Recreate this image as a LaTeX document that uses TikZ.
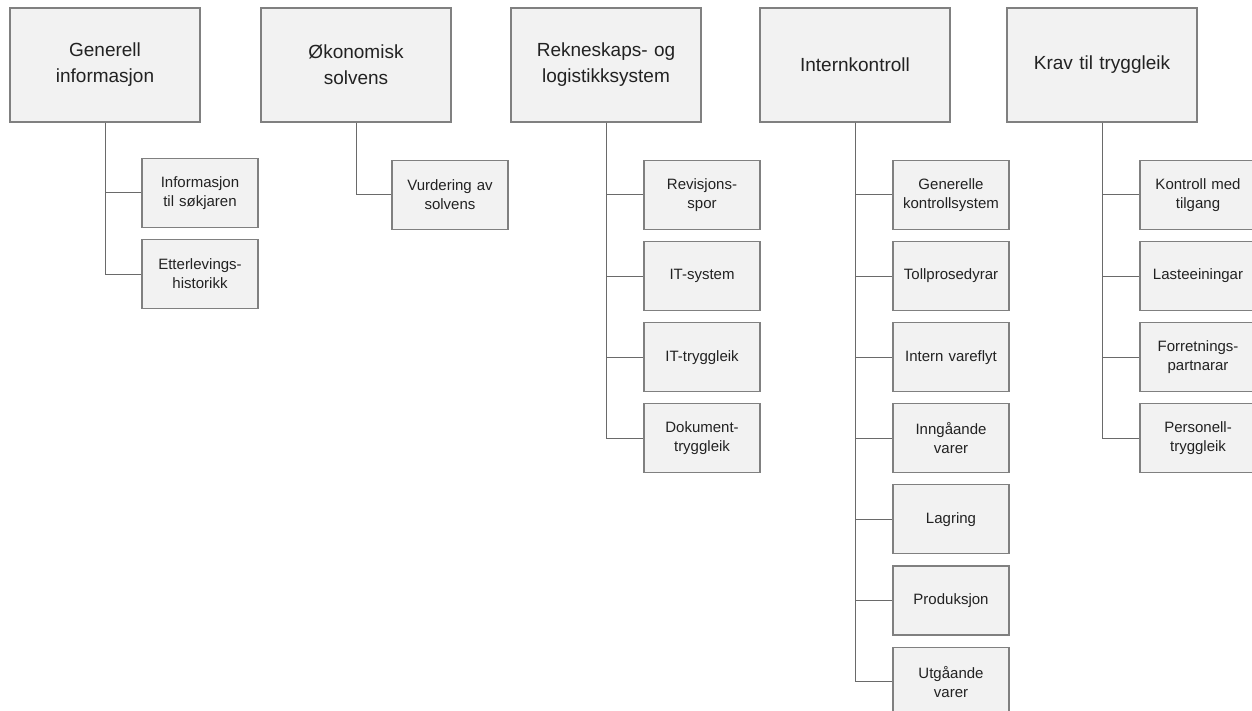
\documentclass[tikz,border=0pt]{standalone}
\usepackage{fontspec}
\setmainfont{Liberation Sans}
\usetikzlibrary{positioning}

\definecolor{boxfill}{HTML}{F2F2F2}
\definecolor{boxline}{HTML}{808080}
\definecolor{linkline}{HTML}{6A6A6A}
\definecolor{boxtext}{HTML}{222222}

\tikzset{
	mainbox/.style={draw=boxline, fill=boxfill, text=boxtext, line width=1.1pt,
		text width=180pt, inner xsep=5pt, inner ysep=0pt, minimum height=114pt,
		align=center, font=\fontsize{19}{26}\selectfont},
	subbox/.style={draw=boxline, fill=boxfill, text=boxtext, line width=1.1pt,
		text width=108pt, inner xsep=4pt, inner ysep=0pt, minimum height=69pt,
		align=center, font=\fontsize{15}{19}\selectfont},
	branch/.style={draw=linkline, line width=1pt},
	node distance=11pt
}

\begin{document}
\begin{tikzpicture}
			\useasboundingbox (0,0) rectangle (1252pt,-711pt);
			\clip (0,0) rectangle (1252pt,-711pt);

			% top row
			\node[mainbox] (gen) at (105pt,-65pt) {Generell\\informasjon};
			\node[mainbox] (oko) at (356pt,-65pt) {Økonomisk\\solvens};
			\node[mainbox] (rek) at (606pt,-65pt) {Rekneskaps- og\\logistikksystem};
			\node[mainbox] (ink) at (855pt,-65pt) {Internkontroll};
			\node[mainbox] (krav) at (1102pt,-65pt) {Krav til tryggleik};

			% Generell informasjon
			\node[subbox] (gen1) at (200pt,-193pt) {Informasjon\\til søkjaren};
			\node[subbox, below=of gen1] (gen2) {Etterlevings-\\historikk};

			% Okonomisk solvens
			\node[subbox] (oko1) at (450pt,-195pt) {Vurdering av\\solvens};

			% Rekneskaps- og logistikksystem
			\node[subbox] (rek1) at (702pt,-195pt) {Revisjons-\\spor};
			\node[subbox, below=of rek1] (rek2) {IT-system};
			\node[subbox, below=of rek2] (rek3) {IT-tryggleik};
			\node[subbox, below=of rek3] (rek4) {Dokument-\\tryggleik};

			% Internkontroll
			\node[subbox] (ink1) at (951pt,-195pt) {Generelle\\kontrollsystem};
			\node[subbox, below=of ink1] (ink2) {Tollprosedyrar};
			\node[subbox, below=of ink2] (ink3) {Intern vareflyt};
			\node[subbox, below=of ink3] (ink4) {Inngåande\\varer};
			\node[subbox, below=of ink4] (ink5) {Lagring};
			\node[subbox, below=of ink5] (ink6) {Produksjon};
			\node[subbox, below=of ink6] (ink7) {Utgåande\\varer};

			% Krav til tryggleik
			\node[subbox] (krav1) at (1198pt,-195pt) {Kontroll med\\tilgang};
			\node[subbox, below=of krav1] (krav2) {Lasteeiningar};
			\node[subbox, below=of krav2] (krav3) {Forretnings-\\partnarar};
			\node[subbox, below=of krav3] (krav4) {Personell-\\tryggleik};

			% connectors
			\foreach \p/\c in {gen/gen1, gen/gen2, oko/oko1,
				rek/rek1, rek/rek2, rek/rek3, rek/rek4,
				ink/ink1, ink/ink2, ink/ink3, ink/ink4, ink/ink5, ink/ink6, ink/ink7,
				krav/krav1, krav/krav2, krav/krav3, krav/krav4}
				\draw[branch] (\p.south) |- (\c.west);
\end{tikzpicture}
\end{document}
